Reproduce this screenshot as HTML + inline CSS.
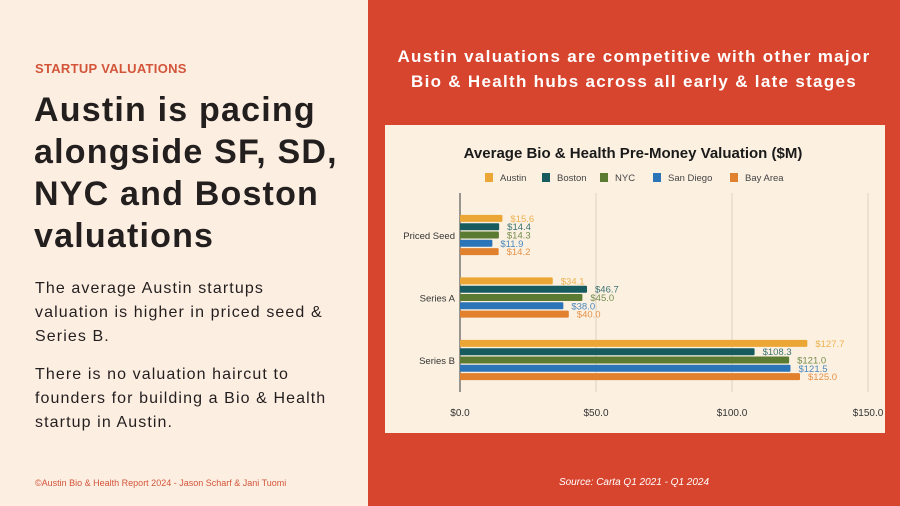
<!DOCTYPE html>
<html><head><meta charset="utf-8"><style>
body{margin:0;width:900px;height:506px;overflow:hidden;font-family:"Liberation Sans",sans-serif;position:relative}
#left{position:absolute;left:0;top:0;width:368px;height:506px;background:#fdeee2}
#right{position:absolute;left:368px;top:0;width:532px;height:506px;background:#d8452e}
.abs{position:absolute}
</style></head><body>
<div id="left">
<div class="abs" style="left:35px;top:61px;font-size:13px;font-weight:bold;color:#d2553a;letter-spacing:0.3px">STARTUP VALUATIONS</div>
<div class="abs" style="left:34px;top:89px;width:334px;font-size:34px;line-height:42px;font-weight:bold;color:#231f1f;letter-spacing:1.2px">Austin is pacing<br>alongside SF, SD,<br>NYC and Boston<br>valuations</div>
<div class="abs" style="left:35px;top:277px;width:333px;font-size:16px;line-height:24px;color:#231f1f;letter-spacing:1.1px">The average Austin startups<br>valuation is higher in priced seed &amp;<br>Series B.</div>
<div class="abs" style="left:35px;top:363px;width:333px;font-size:16px;line-height:24px;color:#231f1f;letter-spacing:1.1px">There is no valuation haircut to<br>founders for building a Bio &amp; Health<br>startup in Austin.</div>
<div class="abs" style="left:35px;top:478px;font-size:9px;color:#d2553a">©Austin Bio &amp; Health Report 2024 - Jason Scharf &amp; Jani Tuomi</div>
</div>
<div id="right">
<div class="abs" style="left:0;top:44px;width:532px;text-align:center;font-size:17px;line-height:25px;font-weight:bold;color:#fff;letter-spacing:1.3px">Austin valuations are competitive with other major<br>Bio &amp; Health hubs across all early &amp; late stages</div>
<div class="abs" style="left:0;top:477px;width:532px;text-align:center;font-size:10px;font-style:italic;color:#fff">Source: Carta Q1 2021 - Q1 2024</div>
</div>
<svg class="abs" style="left:0;top:0" width="900" height="506">
<rect x="385" y="125" width="500" height="308" fill="#fcf1e1"/>
<text x="633" y="158" text-anchor="middle" font-size="15" font-weight="bold" fill="#1a1a1a">Average Bio &amp; Health Pre-Money Valuation ($M)</text>
<g id="legend"></g><g id="grid"></g><g id="bars"></g>
</svg>
<script>
const categories=["Priced Seed","Series A","Series B"];
const seriesNames=["Austin","Boston","NYC","San Diego","Bay Area"];
const austin=[15.6,34.1,127.7];
const boston=[14.4,46.7,108.3];
const nyc=[14.3,45.0,121.0];
const sanDiego=[11.9,38.0,121.5];
const bayArea=[14.2,40.0,125.0];
const ticks=[0,50,100,150];
const tickLabels=["$0.0","$50.0","$100.0","$150.0"];
const series=[austin,boston,nyc,sanDiego,bayArea];
const colors=["#eba635","#175b5f","#5b7a32","#2a74b7","#e1812e"];
const NS="http://www.w3.org/2000/svg";
const x0=460,x1=868,xmax=150;
const xs=v=>x0+(x1-x0)*v/xmax;
const gy=i=>235+i*62.5;
function mk(t,a,p){const e=document.createElementNS(NS,t);for(const k in a)e.setAttribute(k,a[k]);p.appendChild(e);return e;}
const grid=document.getElementById('grid'),bars=document.getElementById('bars'),leg=document.getElementById('legend');
ticks.forEach((t,i)=>{
 const l=mk('line',{x1:xs(t),x2:xs(t),y1:193,y2:392,stroke:i==0?'#777':'#ddd3c6','stroke-width':i==0?1.5:1},grid);
 
 
 const tx=mk('text',{x:xs(t),y:416,'text-anchor':'middle','font-size':10,fill:'#333'},grid);
 tx.textContent=tickLabels[i];
 
 
});
const legX=[500,557,615,668,745];
seriesNames.forEach((n,i)=>{
 const g=mk('g',{},leg);
 
 
 mk('rect',{x:legX[i]-15,y:173,width:8,height:9,fill:colors[i]},g);
 const t=mk('text',{x:legX[i],y:181,'font-size':9.5,fill:'#444'},g);t.textContent=n;
});
categories.forEach((c,ci)=>{
 const t=mk('text',{x:455,y:gy(ci)+4,'text-anchor':'end','font-size':9.5,fill:'#333'},grid);
 t.textContent=c;
 
 
 series.forEach((s,si)=>{
  const cy=gy(ci)+(si-2)*8.3;
  const r=mk('rect',{x:x0,y:cy-3.5,width:xs(s[ci])-x0,height:7,fill:colors[si],rx:1},bars);
  
  
  const v=mk('text',{x:xs(s[ci])+8,y:cy+3.5,'font-size':9.5,fill:colors[si],opacity:0.85},bars);
  v.textContent='$'+s[ci].toFixed(1);
  
  
 });
});
</script>
</body></html>
